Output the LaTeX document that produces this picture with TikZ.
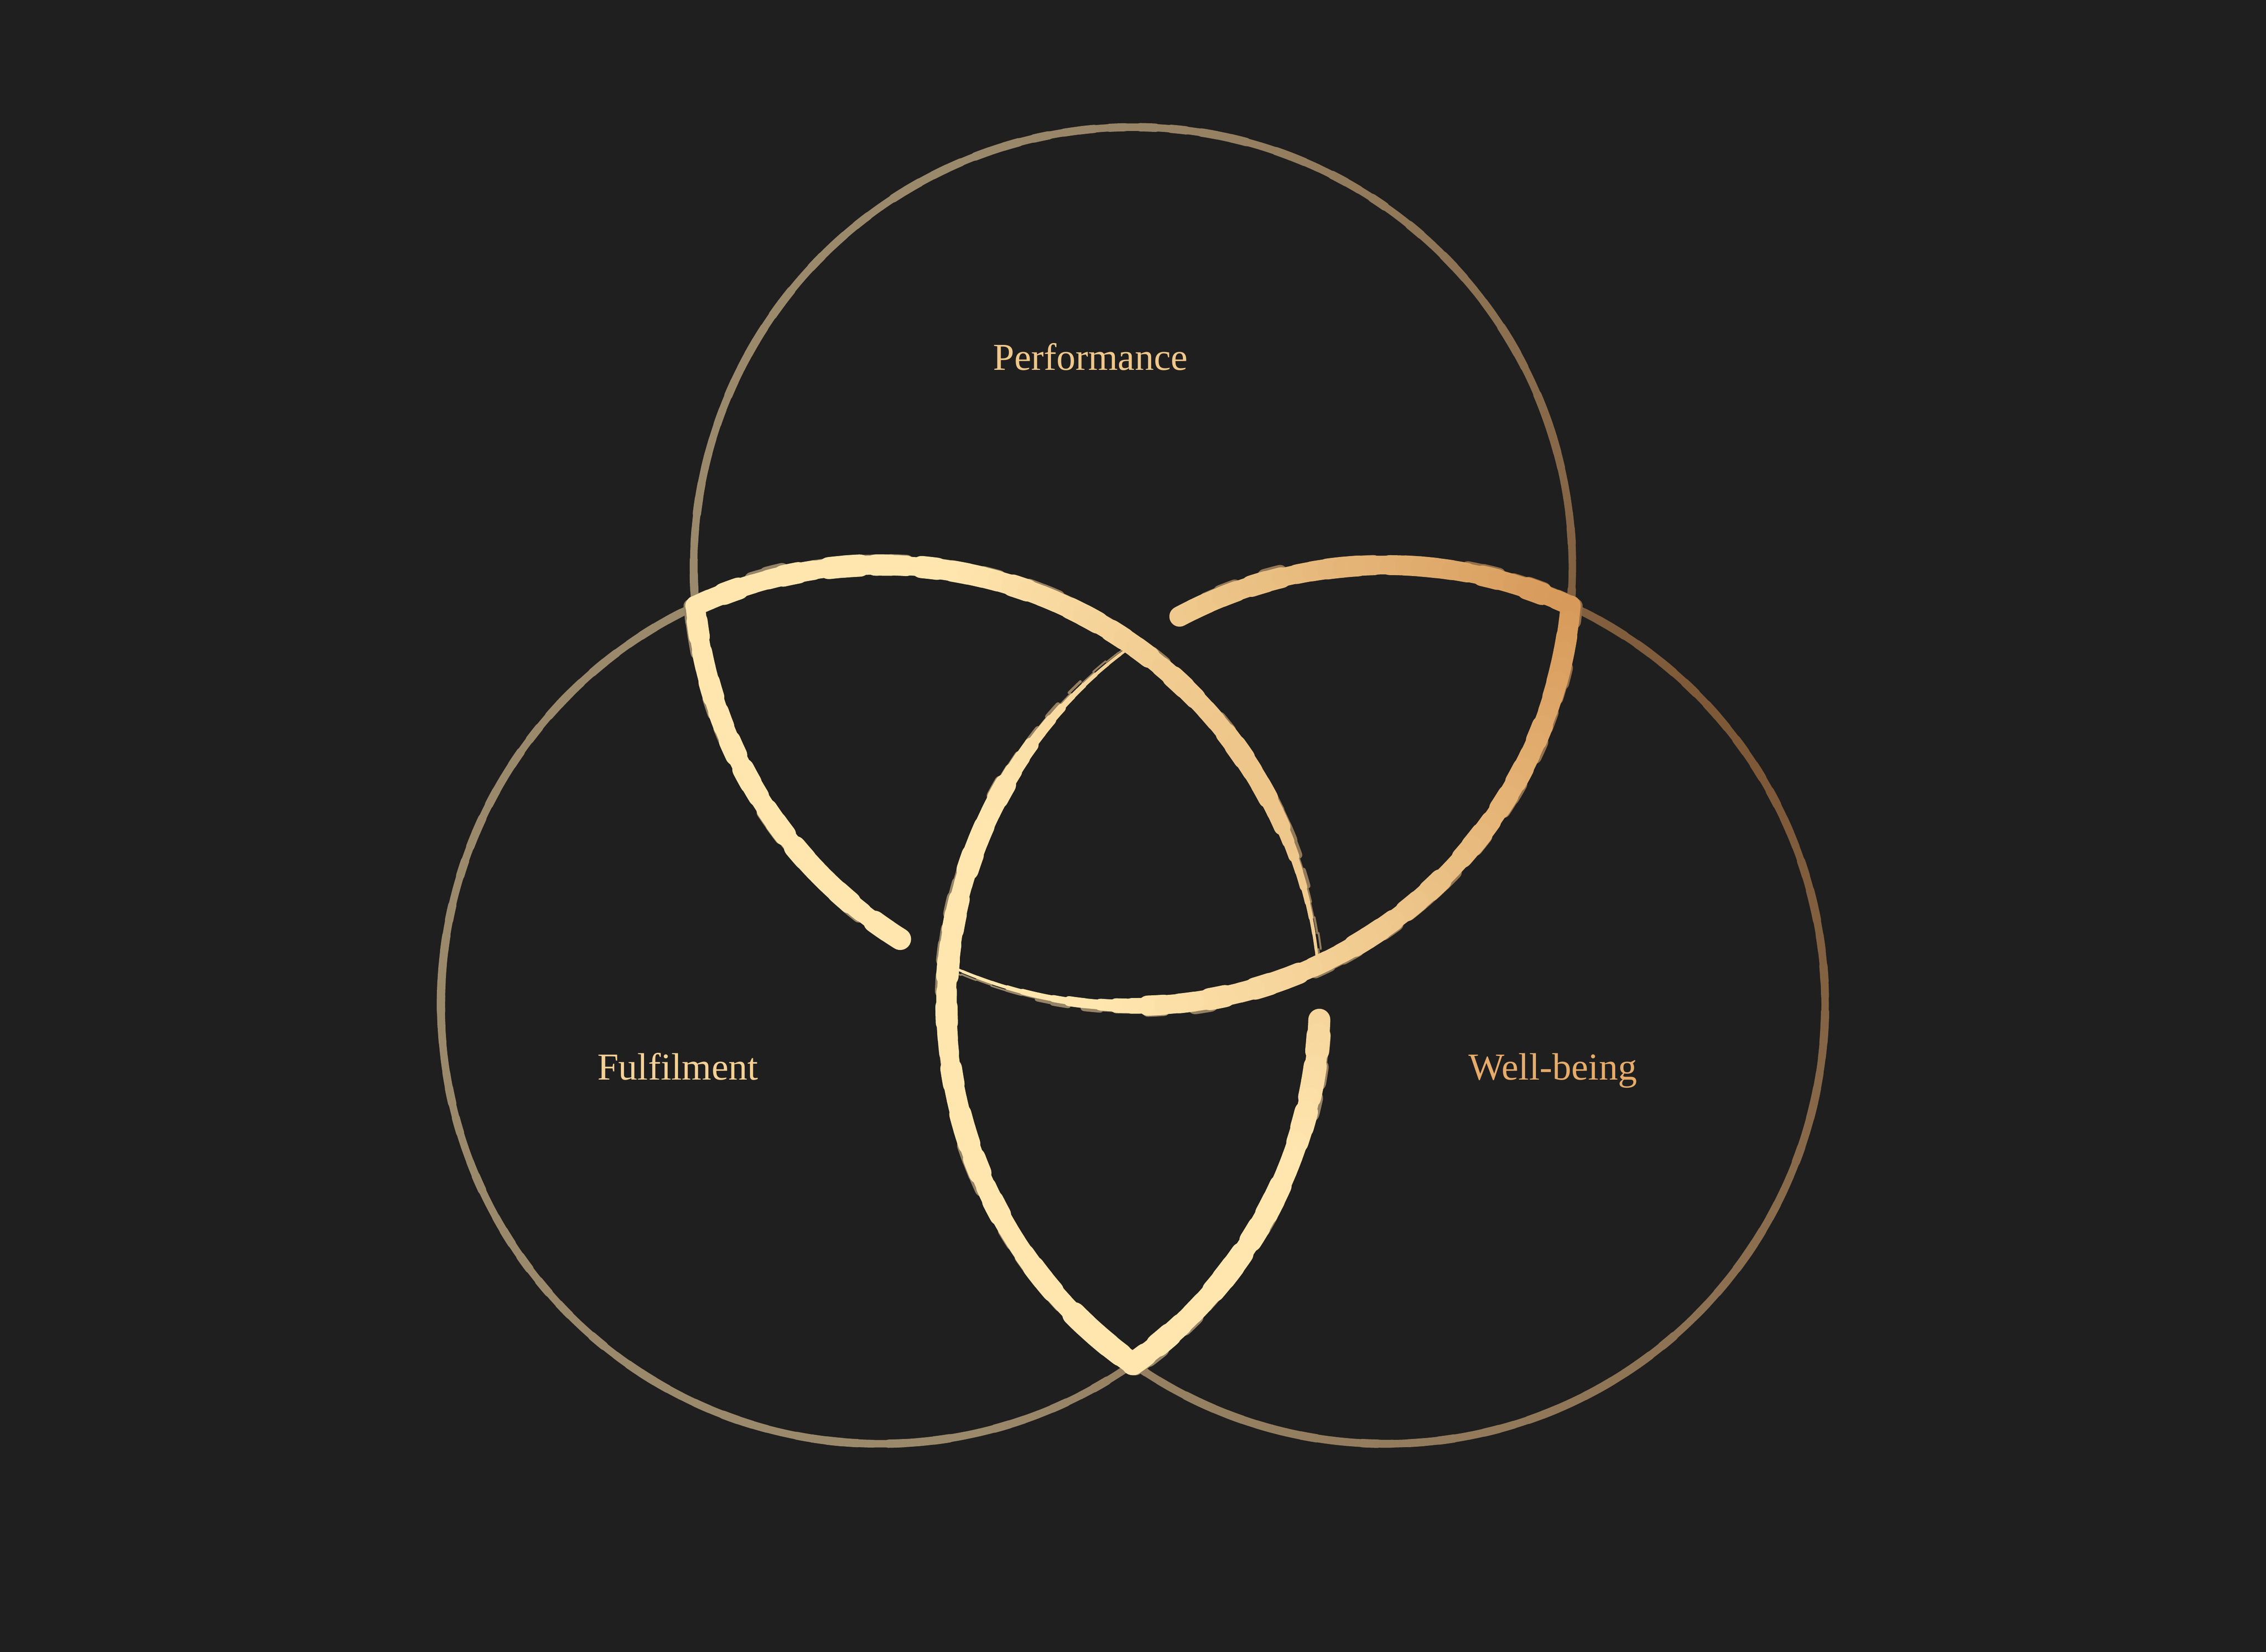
\documentclass[tikz,border=0pt]{standalone}
\usepackage{xcolor}
\usepackage{fontspec}
\newfontfamily\labelfont{Liberation Serif}
\usetikzlibrary{calc}

\definecolor{bgdark}{HTML}{201F1F}
\definecolor{perfcol}{HTML}{F0C88B}
\definecolor{fulfcol}{HTML}{F5D196}
\definecolor{wellcol}{HTML}{E6AC6A}

\pgfmathsetseed{17}
\newcommand{\ringrad}{3.04}
\def\rshift{0}\def\jit{0}\def\wscale{1}
% palette: far colour (#1,#2,#3) and near colour (#4,#5,#6), RGB
\newcommand{\setpal}[6]{\def\pra{#1}\def\pga{#2}\def\pba{#3}\def\prb{#4}\def\pgb{#5}\def\pbb{#6}}
% arc of the ring centred at (#1,#2) from #3 to #4 degrees, width #5 -> #6 pt,
% coloured towards the near colour close to the glow point (\gx,\gy)
\newcommand{\inkarc}[6]{%
  \pgfmathsetmacro{\arcspan}{#4-(#3)}%
  \pgfmathtruncatemacro{\nseg}{max(1,round(abs(\arcspan)/2))}%
  \pgfmathsetmacro{\arcstep}{\arcspan/\nseg}%
  \foreach \k in {1,...,\nseg}{%
    \pgfmathsetmacro{\angA}{#3+\arcstep*(\k-1)}%
    \pgfmathsetmacro{\angB}{#3+\arcstep*\k}%
    \pgfmathsetmacro{\ringr}{\ringrad+\rshift*(0.5+rnd)}%
    \pgfmathsetmacro{\wid}{\wscale*(#6+(#5-#6)*(1-(\k-0.5)/\nseg)^2)*(1-\jit/2+\jit*rnd)}%
    \pgfmathsetmacro{\glowdx}{#1+\ringr*cos((\angA+\angB)/2)-\gx}%
    \pgfmathsetmacro{\glowdy}{#2+\ringr*sin((\angA+\angB)/2)-\gy}%
    \pgfmathsetmacro{\glowd}{sqrt(\glowdx*\glowdx+\glowdy*\glowdy)}%
    \pgfmathsetmacro{\mixp}{max(0,1-\glowd/\gr)}%
    \pgfmathtruncatemacro{\segr}{\pra+(\prb-\pra)*\mixp}%
    \pgfmathtruncatemacro{\segg}{\pga+(\pgb-\pga)*\mixp}%
    \pgfmathtruncatemacro{\segb}{\pba+(\pbb-\pba)*\mixp}%
    \definecolor{segcol}{RGB}{\segr,\segg,\segb}%
    \draw[line width=\wid pt, draw=segcol] (#1,#2) ++(\angA:\ringr)
      arc[start angle=\angA, end angle=\angB, radius=\ringr];
  }}
% the interlaced strokes: centre x / centre y / from / to / width from / width to
\newcommand{\knotlist}{6.091/4.48/28/5.1/4/0.5, 7.84/7.51/-86/-114.9/4/0.5,
  9.589/4.48/150/125.1/4/0.5, 7.84/7.51/238/185.1/4/4, 6.091/4.48/114.9/28/4/4,
  9.589/4.48/118/65.1/4/4, 7.84/7.51/-5.1/-86/4/4, 6.091/4.48/-2/-54.9/4.3/4.3,
  9.589/4.48/234.9/150/4.3/4}

\begin{document}
\begin{tikzpicture}[line cap=round,
  venn label/.style={anchor=base, inner sep=0pt, font=\labelfont\fontsize{7.5}{9}\selectfont}]
	\useasboundingbox (0,0) rectangle (15.68,11.43);
	\fill[bgdark] (0,0) rectangle (15.68,11.43);
	% ring centres
	\coordinate (T) at (7.84,7.51);
	\coordinate (L) at (6.091,4.48);
	\coordinate (R) at (9.589,4.48);
	% outer rims
	\def\gx{11.6}\def\gy{6.0}\def\gr{6.5}\def\jit{0.15}
	\setpal{155}{137}{107}{123}{85}{52}
	\inkarc{7.84}{7.51}{-7}{187.1}{1.55}{1.55}
	\inkarc{6.091}{4.48}{112.9}{307.1}{1.55}{1.55}
	\inkarc{9.589}{4.48}{232.9}{427.1}{1.55}{1.55}
	% shaded brush edge
	\def\gx{10.85}\def\gy{7.2}\def\gr{4.2}
	\def\rshift{0.025}\def\jit{0.6}\def\wscale{0.6}
	\setpal{150}{132}{103}{145}{108}{70}
	\foreach \cx/\cy/\af/\at/\wa/\wb in \knotlist
		{\inkarc{\cx}{\cy}{\af}{\at}{\wa}{\wb}}
	% bright strokes
	\def\rshift{0}\def\jit{0.2}\def\wscale{1}
	\setpal{255}{230}{174}{215}{154}{90}
	\foreach \cx/\cy/\af/\at/\wa/\wb in \knotlist
		{\inkarc{\cx}{\cy}{\af}{\at}{\wa}{\wb}}
	% labels
	\node[venn label, text=perfcol] (perf) at (7.545,8.87) {Performance};
	\node[venn label, text=fulfcol] (fulf) at (4.69,3.96) {Fulfilment};
	\node[venn label, text=wellcol] (well) at (10.745,3.96) {Well-being};
\end{tikzpicture}
\end{document}
